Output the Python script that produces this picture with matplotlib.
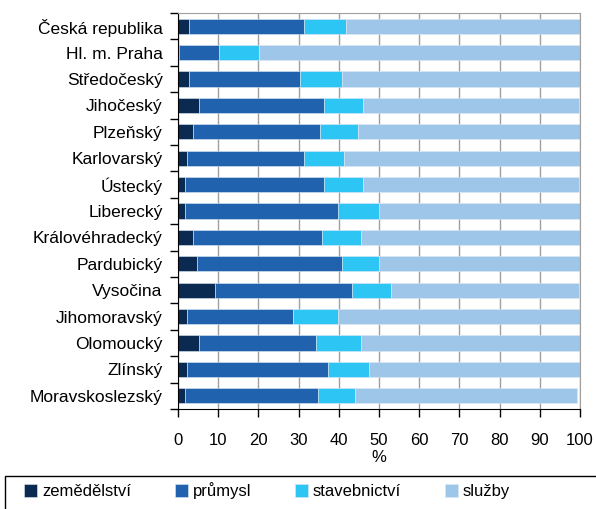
import matplotlib.pyplot as plt
from matplotlib.patches import Rectangle
import numpy as np

plt.rcParams['font.family'] = ['Liberation Sans', 'DejaVu Sans']

kraje = ['Česká republika', 'Hl. m. Praha', 'Středočeský', 'Jihočeský', 'Plzeňský',
         'Karlovarský', 'Ústecký', 'Liberecký', 'Královéhradecký', 'Pardubický',
         'Vysočina', 'Jihomoravský', 'Olomoucký', 'Zlínský', 'Moravskoslezský']

zemedelstvi = [2.7, 0.3, 2.7, 5.2, 3.7, 2.2, 1.7, 1.7, 3.7, 4.7, 9.1, 2.2, 5.2, 2.2, 1.7]
prumysl = [28.7, 9.8, 27.7, 31.1, 31.7, 29.2, 34.6, 38.1, 32.1, 36.0, 34.1, 26.3, 29.2, 35.1, 33.1]
stavebnictvi = [10.3, 10.0, 10.3, 9.8, 9.3, 9.8, 9.8, 10.2, 9.8, 9.3, 9.8, 11.3, 11.2, 10.3, 9.3]
sluzby = [58.3, 79.9, 59.3, 53.65, 55.3, 58.8, 53.65, 50.0, 54.4, 50.0, 46.75, 60.2, 54.4, 52.4, 55.2]

odvetvi = ['zemědělství', 'průmysl', 'stavebnictví', 'služby']
barvy = ['#0b2a52', '#2062ae', '#2dc5f4', '#9dc6e9']

fig = plt.figure(figsize=(5.96, 5.09), dpi=100)
ax = fig.add_axes([178 / 596, 100 / 509, 402 / 596, 396 / 509])

y = np.arange(len(kraje))
left = np.zeros(len(kraje))
for hodnoty, nazev, barva in zip([zemedelstvi, prumysl, stavebnictvi, sluzby], odvetvi, barvy):
    ax.barh(y, hodnoty, left=left, height=0.58, color=barva, label=nazev,
            edgecolor='#dce8f4', linewidth=0.4, zorder=2)
    left += np.array(hodnoty)

ax.set_xlim(0, 100)
ax.set_ylim(len(kraje) - 0.5, -0.5)
ax.set_xticks(range(0, 101, 10))
ax.xaxis.grid(True, color='#a0a0a0', linewidth=1, zorder=0)
ax.set_axisbelow(True)

ax.set_yticks(y)
ax.set_yticklabels(kraje, fontsize=12.5)
ax.set_yticks(np.arange(-0.5, len(kraje)), minor=True)
ax.tick_params(axis='y', which='major', length=0, pad=11)
ax.tick_params(axis='y', which='minor', length=6, width=1, direction='out')
ax.tick_params(axis='x', length=6, width=1, labelsize=12, pad=11)
ax.set_xlabel('%', fontsize=12, labelpad=2)

ax.spines['left'].set_color('black')
ax.spines['bottom'].set_color('black')
ax.spines['top'].set_color('#a0a0a0')
ax.spines['right'].set_color('#a0a0a0')

# ramecek legendy presahuje pres okraj obrazku
fig.patches.append(Rectangle((5 / 596, -0.05), 1.0, 33 / 509 + 0.05, transform=fig.transFigure,
                             fill=False, edgecolor='black', linewidth=1))

fig.legend(loc='center left', bbox_to_anchor=(24 / 596, 18 / 509),
           ncol=4, fontsize=12, frameon=False,
           handlelength=0.8, handleheight=0.8, handletextpad=0.3,
           columnspacing=2.6, borderpad=0, borderaxespad=0)

fig.savefig('out.png', dpi=100)
